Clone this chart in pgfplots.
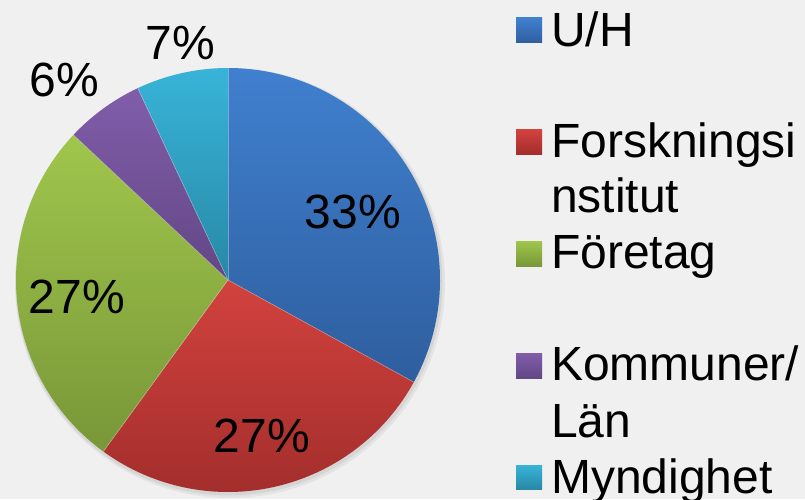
\documentclass[border=0pt]{standalone}
\usepackage{pgfplots}
\pgfplotsset{compat=1.18}
\usepackage{pgfplotstable}
\usepackage{fontspec}
\setmainfont{Liberation Sans}

\definecolor{bg}{RGB}{240,240,240}
\definecolor{c0top}{RGB}{64,128,207}
\definecolor{c0bot}{RGB}{46,94,158}
\definecolor{c1top}{RGB}{210,66,62}
\definecolor{c1bot}{RGB}{163,46,44}
\definecolor{c2top}{RGB}{160,198,76}
\definecolor{c2bot}{RGB}{120,151,56}
\definecolor{c3top}{RGB}{129,93,170}
\definecolor{c3bot}{RGB}{98,71,133}
\definecolor{c4top}{RGB}{56,180,216}
\definecolor{c4bot}{RGB}{40,136,166}

\tikzset{big/.style={font=\fontsize{48}{56}\selectfont, inner sep=0pt, anchor=base}}

% share (%), label position (x, y)
\pgfplotstableread{
share lx ly
33 353 271
27 262 47
27 77 186
6 64 402
7 180 439
}\piedata

\begin{document}
\begin{tikzpicture}
\begin{axis}[hide axis, scale only axis, x=1pt, y=1pt,
  xmin=0, xmax=805, ymin=0, ymax=499, clip=false]
\fill[bg] (axis cs:0,0) rectangle (axis cs:805,499);
% soft shadow
\fill[black, opacity=0.05] (axis cs:230,216) circle[radius=215pt];
\fill[black, opacity=0.06] (axis cs:229,217) circle[radius=213.5pt];
\gdef\angA{90}
\pgfplotsforeachungrouped \i in {0,...,4}{%
  \pgfplotstablegetelem{\i}{share}\of\piedata
  \let\val\pgfplotsretval
  \pgfplotstablegetelem{\i}{lx}\of\piedata
  \let\lx\pgfplotsretval
  \pgfplotstablegetelem{\i}{ly}\of\piedata
  \let\ly\pgfplotsretval
  \pgfmathsetmacro\angB{\angA-3.6*\val}
  \edef\cmd{%
    \noexpand\shade[top color=c\i top, bottom color=c\i bot]
      (axis cs:228,219) -- ++(\angA:212pt)
      arc[start angle=\angA, end angle=\angB, radius=212pt] -- cycle;
    \noexpand\draw[white, opacity=0.35, line width=0.6pt]
      (axis cs:228,219) -- ++(\angA:212pt);
    \noexpand\node[big] at (axis cs:\lx,\ly) {\val\noexpand\%};
  }%
  \cmd
  \global\let\angA\angB
}
% legend
\shade[top color=c0top, bottom color=c0bot] (axis cs:516,456) rectangle (axis cs:542,481);
\shade[top color=c1top, bottom color=c1bot] (axis cs:516,345) rectangle (axis cs:542,369);
\shade[top color=c2top, bottom color=c2bot] (axis cs:516,233) rectangle (axis cs:542,258);
\shade[top color=c3top, bottom color=c3bot] (axis cs:516,121) rectangle (axis cs:542,146);
\shade[top color=c4top, bottom color=c4bot] (axis cs:516,10) rectangle (axis cs:542,34);
\node[big, anchor=base west] at (axis cs:551,452) {U/H};
\node[big, anchor=base west] at (axis cs:551,342) {Forskningsi};
\node[big, anchor=base west] at (axis cs:551,287) {nstitut};
\node[big, anchor=base west] at (axis cs:551,231) {Företag};
\node[big, anchor=base west] at (axis cs:551,119) {Kommuner/};
\node[big, anchor=base west] at (axis cs:551,62) {Län};
\node[big, anchor=base west] at (axis cs:551,6) {Myndighet};
\end{axis}
\pgfresetboundingbox
\path (0pt,0pt) rectangle (805pt,499pt);
\end{tikzpicture}
\end{document}
